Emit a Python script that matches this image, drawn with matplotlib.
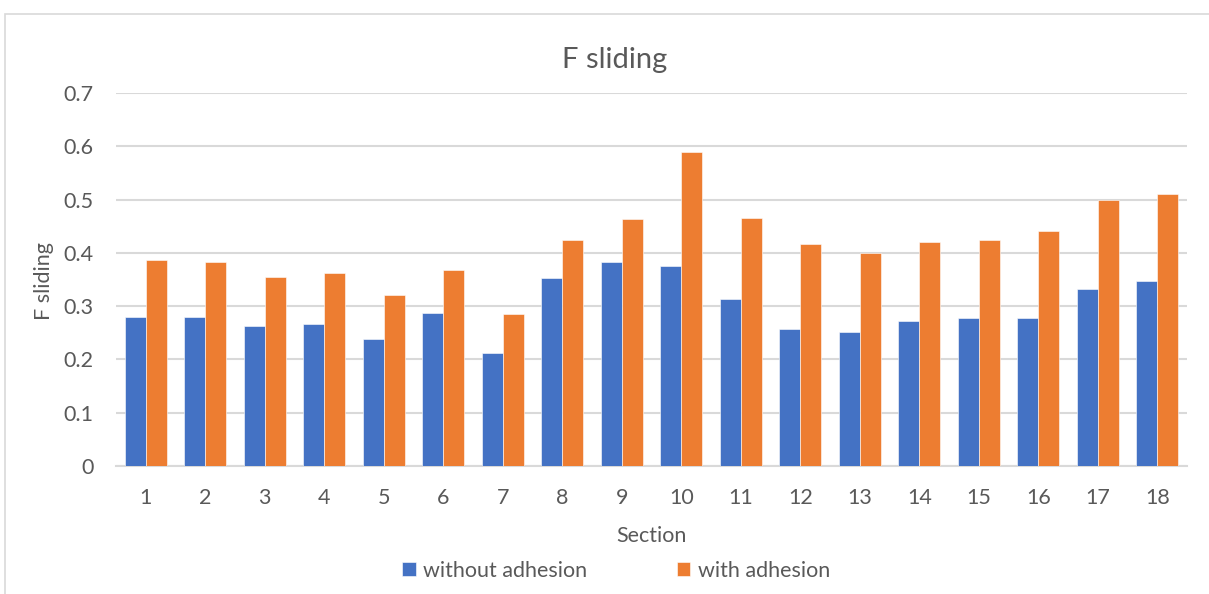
import matplotlib
matplotlib.use("Agg")
import matplotlib.pyplot as plt
from matplotlib.patches import Rectangle
import numpy as np

sections = [str(i) for i in range(1, 19)]
without_adhesion = [0.280, 0.280, 0.262, 0.267, 0.239, 0.288, 0.213, 0.352, 0.382,
                    0.375, 0.313, 0.258, 0.252, 0.272, 0.278, 0.277, 0.332, 0.347]
with_adhesion = [0.387, 0.382, 0.355, 0.362, 0.320, 0.367, 0.285, 0.425, 0.463,
                 0.590, 0.466, 0.416, 0.400, 0.421, 0.425, 0.441, 0.500, 0.511]
y_ticks = [0, 0.1, 0.2, 0.3, 0.4, 0.5, 0.6, 0.7]

BLUE = "#4472C4"
ORANGE = "#ED7D31"
TEXT = "#595959"
GRID = "#D9D9D9"
FS = 15.5

plt.rcParams["font.family"] = ["Lato", "DejaVu Sans"]

W, H = 1209, 594
fig = plt.figure(figsize=(W / 100, H / 100), dpi=100)
ax = fig.add_axes([116 / W, 1 - 466 / H, (1187 - 116) / W, (466 - 93) / H])

x = np.arange(len(sections))
bw = 0.35
ax.bar(x - bw / 2, without_adhesion, bw, color=BLUE, edgecolor="white",
       linewidth=0.4, label="without adhesion", zorder=3)
ax.bar(x + bw / 2, with_adhesion, bw, color=ORANGE, edgecolor="white",
       linewidth=0.4, label="with adhesion", zorder=3)

ax.set_xlim(-0.5, len(sections) - 0.5)
ax.set_ylim(0, 0.7)
ax.set_yticks(y_ticks)
ax.set_yticklabels(["0" if v == 0 else f"{v:g}" for v in y_ticks])
ax.set_xticks(x)
ax.set_xticklabels(sections)
ax.yaxis.grid(True, color=GRID, linewidth=1.5, zorder=0)
ax.set_axisbelow(True)
for side in ["top", "right", "left"]:
    ax.spines[side].set_visible(False)
ax.spines["bottom"].set_color(GRID)
ax.spines["bottom"].set_linewidth(1.5)
ax.tick_params(axis="both", length=0, labelsize=FS, colors=TEXT)
ax.tick_params(axis="y", pad=16)
ax.tick_params(axis="x", pad=16)

ax.set_xlabel("Section", fontsize=FS, color=TEXT, labelpad=13)
fig.text(44 / W, 1 - 281 / H, "F sliding", rotation=90, ha="center",
         va="center", fontsize=FS, color=TEXT)
fig.text(615 / W, 1 - 60 / H, "F sliding", ha="center", va="center",
         fontsize=21, color=TEXT)

leg = fig.legend(loc="center", bbox_to_anchor=(616 / W, 1 - 571 / H), ncol=2,
                 frameon=False, fontsize=FS, labelcolor=TEXT,
                 handlelength=0.62, handleheight=0.62, handletextpad=0.33,
                 columnspacing=4.2)

# chart area border
fig.patches.append(Rectangle((5 / W, -0.05), 1.2, 1 - 14 / H + 0.05,
                             transform=fig.transFigure, fill=False,
                             edgecolor=GRID, linewidth=1.2))

fig.savefig("out.png", dpi=100, facecolor="white")
